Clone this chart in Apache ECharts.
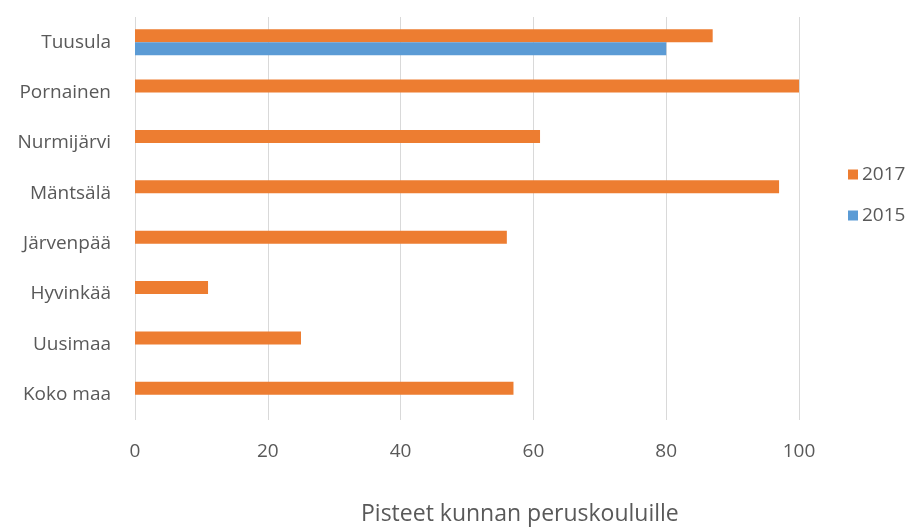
<!DOCTYPE html>
<html>
<head>
<meta charset="utf-8">
<script src="https://cdn.jsdelivr.net/npm/echarts@6/dist/echarts.min.js"></script>
<style>html,body{margin:0;padding:0;background:#fff}#c{width:912px;height:529px}</style>
</head>
<body>
<div id="c"></div>
<script>
var categories = ['Tuusula', 'Pornainen', 'Nurmijärvi', 'Mäntsälä', 'Järvenpää', 'Hyvinkää', 'Uusimaa', 'Koko maa'];
var values2017 = [87, 100, 61, 97, 56, 11, 25, 57];
var values2015 = [80, null, null, null, null, null, null, null];
var xTicks = [0, 20, 40, 60, 80, 100];
var axisTitle = 'Pisteet kunnan peruskouluille';

var FONT = '"Open Sans", "Noto Sans", sans-serif';
var TXT = '#595959';
var chart = echarts.init(document.getElementById('c'), null, {renderer: 'canvas'});
chart.setOption({
  animation: false,
  backgroundColor: '#fff',
  textStyle: {fontFamily: FONT},
  grid: {left: 135, right: 113, top: 17, bottom: 109, containLabel: false},
  legend: {
    orient: 'vertical',
    left: 843,
    top: 160,
    itemWidth: 10,
    itemHeight: 10,
    itemGap: 22,
    icon: 'rect',
    textStyle: {color: TXT, fontSize: 19, fontFamily: FONT, padding: [0, 0, 0, -1]},
    data: ['2017', '2015']
  },
  xAxis: {
    type: 'value',
    min: xTicks[0],
    max: xTicks[xTicks.length - 1],
    interval: 20,
    axisLine: {show: false},
    axisTick: {show: false},
    splitLine: {show: true, lineStyle: {color: '#D9D9D9', width: 1}},
    axisLabel: {color: TXT, fontSize: 19, fontFamily: FONT, margin: 22}
  },
  yAxis: {
    type: 'category',
    inverse: true,
    data: categories,
    axisLine: {show: false},
    axisTick: {show: false},
    splitLine: {show: false},
    axisLabel: {color: TXT, fontSize: 19, fontFamily: FONT, margin: 24}
  },
  graphic: [{
    type: 'text',
    left: 361,
    top: 503,
    style: {text: axisTitle, fill: TXT, font: '23px "Open Sans", "Noto Sans", sans-serif'}
  }],
  series: [
    {name: '2017', type: 'bar', data: values2017, barWidth: 13, barGap: '0%', itemStyle: {color: '#ED7D31'}},
    {name: '2015', type: 'bar', data: values2015, barWidth: 13, barGap: '0%', itemStyle: {color: '#5B9BD5'}}
  ]
});
</script>
</body>
</html>
